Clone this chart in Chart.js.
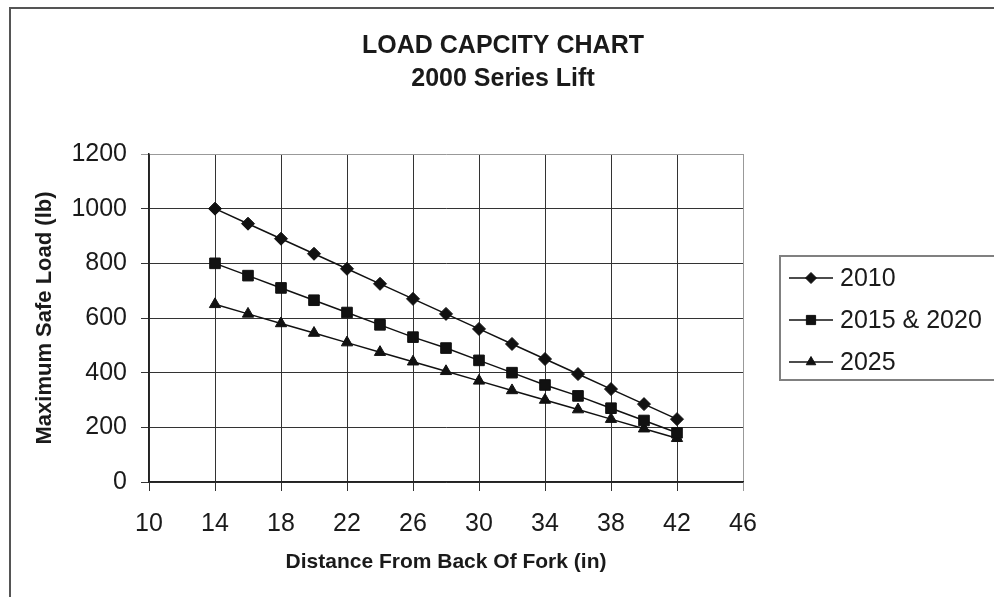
<!DOCTYPE html>
<html>
<head>
<meta charset="utf-8">
<title>Load Capacity Chart</title>
<script src="https://cdn.jsdelivr.net/npm/chart.js@4.4.1/dist/chart.umd.min.js"></script>
<style>
  html, body { margin: 0; padding: 0; background: #fff; }
  #wrap { position: relative; width: 994px; height: 597px; }
</style>
</head>
<body>
<div id="wrap"><canvas id="load-chart"></canvas></div>
<script>
const distances = [14, 16, 18, 20, 22, 24, 26, 28, 30, 32, 34, 36, 38, 40, 42];
const load2010 = [1000, 945, 890, 835, 780, 725, 670, 615, 560, 505, 450, 395, 340, 285, 230];
const load2015 = [800, 755, 710, 665, 620, 575, 530, 490, 445, 400, 355, 315, 270, 225, 180];
const load2025 = [650, 615, 580, 545, 510, 475, 440, 405, 370, 335, 300, 265, 230, 195, 160];
const seriesNames = ['2010', '2015 & 2020', '2025'];
const xTicks = [10, 14, 18, 22, 26, 30, 34, 38, 42, 46];
const yTicks = [0, 200, 400, 600, 800, 1000, 1200];

const FONT = "'Liberation Sans', Arial, sans-serif";
const INK = '#1a1a1a';

Chart.defaults.font.family = FONT;
Chart.defaults.color = INK;

const toPoints = (values) => values.map((v, i) => ({ x: distances[i], y: v }));

// frame round the whole chart (only the top and left edges fall inside the picture)
const outerFrame = {
  id: 'outerFrame',
  beforeDraw(chart) {
    const { ctx } = chart;
    ctx.save();
    ctx.strokeStyle = '#555';
    ctx.lineWidth = 2;
    ctx.beginPath();
    ctx.moveTo(10, chart.height + 2);
    ctx.lineTo(10, 8);
    ctx.lineTo(chart.width + 2, 8);
    ctx.stroke();
    ctx.restore();
  },
};

// excel style legend: line + marker + label inside a box
const boxLegend = {
  id: 'boxLegend',
  afterDraw(chart) {
    const { ctx } = chart;
    ctx.save();
    ctx.strokeStyle = '#808080';
    ctx.lineWidth = 2;
    ctx.strokeRect(780, 256, 240, 124);
    chart.data.datasets.forEach((ds, i) => {
      const y = 278 + i * 42;
      ctx.strokeStyle = ds.borderColor;
      ctx.lineWidth = 1.5;
      ctx.beginPath();
      ctx.moveTo(789, y);
      ctx.lineTo(833, y);
      ctx.stroke();
      ctx.fillStyle = ds.pointBackgroundColor;
      ctx.strokeStyle = ds.pointBorderColor;
      ctx.lineWidth = 1;
      Chart.helpers.drawPoint(ctx, {
        pointStyle: ds.pointStyle,
        radius: ds.pointRadius - 1,
        rotation: 0,
        borderWidth: 1,
      }, 811, y);
      ctx.fillStyle = INK;
      ctx.font = `25px ${FONT}`;
      ctx.textAlign = 'left';
      ctx.textBaseline = 'middle';
      ctx.fillText(ds.label, 840, y + 1);
    });
    ctx.restore();
  },
};

const seriesStyle = (label, values, pointStyle, radius) => ({
  label,
  data: toPoints(values),
  borderColor: '#111',
  borderWidth: 1.5,
  pointStyle,
  pointRadius: radius,
  pointHoverRadius: radius,
  pointBackgroundColor: '#111',
  pointBorderColor: '#111',
  pointBorderWidth: 1,
  tension: 0,
});

// eslint-disable-next-line no-new
new Chart(
  document.getElementById('load-chart'),
  {
    type: 'line',
    data: {
      datasets: [
        seriesStyle(seriesNames[0], load2010, 'rectRot', 6.5),
        seriesStyle(seriesNames[1], load2015, 'rect', 7.5),
        seriesStyle(seriesNames[2], load2025, 'triangle', 6.5),
      ],
    },
    plugins: [outerFrame, boxLegend],
    options: {
      responsive: true,
      maintainAspectRatio: false,
      animation: false,
      layout: {
        padding: { left: 12, top: 8, right: 0, bottom: 15 },
      },
      plugins: {
        legend: { display: false },
        tooltip: { enabled: false },
        title: {
          display: true,
          text: ['LOAD CAPCITY CHART', '2000 Series Lift'],
          color: INK,
          font: { size: 25, weight: 'bold', lineHeight: 1.32 },
          padding: { top: 22, bottom: 58 },
        },
      },
      scales: {
        x: {
          type: 'linear',
          min: xTicks[0],
          max: xTicks[xTicks.length - 1],
          afterBuildTicks(scale) {
            scale.ticks = xTicks.map((value) => ({ value }));
          },
          afterFit(scale) {
            scale.height = 100;
          },
          grid: {
            color: (c) => (c.tick && c.tick.value === 46 ? '#999' : '#333'),
            lineWidth: 1,
            tickLength: 9,
          },
          border: { color: '#222', width: 1.5 },
          ticks: {
            font: { size: 25 },
            color: INK,
            padding: 18,
            maxRotation: 0,
            callback: (v) => String(v),
          },
          title: {
            display: true,
            text: 'Distance From Back Of Fork (in)',
            color: INK,
            font: { size: 21, weight: 'bold' },
            padding: { top: 0, bottom: 7 },
          },
        },
        y: {
          min: yTicks[0],
          max: yTicks[yTicks.length - 1],
          afterBuildTicks(scale) {
            scale.ticks = yTicks.map((value) => ({ value }));
          },
          afterFit(scale) {
            scale.width = 137;
          },
          grid: {
            color: (c) => (c.tick && c.tick.value === 1200 ? '#999' : '#333'),
            lineWidth: 1,
            tickLength: 8,
          },
          border: { color: '#222', width: 1.5 },
          ticks: {
            font: { size: 25 },
            color: INK,
            padding: 14,
            callback: (v) => String(v),
          },
          title: {
            display: true,
            text: 'Maximum Safe Load (lb)',
            color: INK,
            font: { size: 22, weight: 'bold' },
            padding: { top: 20, bottom: 0 },
          },
        },
        // empty axis that keeps the room for the legend on the right
        legendRoom: {
          position: 'right',
          display: true,
          afterFit(scale) {
            scale.width = 251;
          },
          grid: { display: false },
          border: { display: false },
          ticks: { display: false },
        },
      },
    },
  },
);
</script>
</body>
</html>
